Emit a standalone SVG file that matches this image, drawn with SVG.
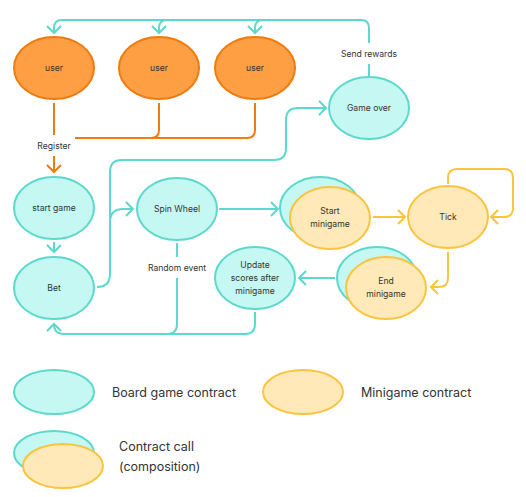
<svg xmlns="http://www.w3.org/2000/svg" width="526" height="497" viewBox="0 0 526 497">
<style>
.t{fill:#c5f8f2;stroke:#5dd8cc;stroke-width:2}
.o{fill:#fd9f42;stroke:#ef7b10;stroke-width:2}
.y{fill:#ffe9b8;stroke:#fbc43f;stroke-width:2}
text{font-family:Inter,"Noto Sans","Liberation Sans",sans-serif;fill:#333;font-size:8.6px;text-anchor:middle}
.lg{font-size:12.5px;text-anchor:start}
.ct{fill:none;stroke:#5dd8cc;stroke-width:2}
.co{fill:none;stroke:#ef7b10;stroke-width:2}
.cy{fill:none;stroke:#fbc43f;stroke-width:2}
</style>
<defs>
<marker id="at" markerUnits="userSpaceOnUse" viewBox="-9 -9 18 18" markerWidth="18" markerHeight="18" refX="0" refY="0" orient="auto"><path d="M-7,-7 L0,0 L-7,7" fill="none" stroke="#5dd8cc" stroke-width="2"/></marker>
<marker id="ao" markerUnits="userSpaceOnUse" viewBox="-9 -9 18 18" markerWidth="18" markerHeight="18" refX="0" refY="0" orient="auto"><path d="M-7,-7 L0,0 L-7,7" fill="none" stroke="#ef7b10" stroke-width="2"/></marker>
<marker id="ay" markerUnits="userSpaceOnUse" viewBox="-9 -9 18 18" markerWidth="18" markerHeight="18" refX="0" refY="0" orient="auto"><path d="M-7,-7 L0,0 L-7,7" fill="none" stroke="#fbc43f" stroke-width="2"/></marker>
</defs>
<rect width="526" height="497" fill="#fff"/>
<g id="connectors">
<path class="ct" d="M369,76 L369,64"/>
<path class="ct" d="M369,43 L369,28 Q369,20 361,20 L62,20 Q54,20 54,28 L54,33" marker-end="url(#at)"/>
<path class="ct" d="M167,20 Q159,20 159,28 L159,33" marker-end="url(#at)"/>
<path class="ct" d="M263,20 Q255,20 255,28 L255,33" marker-end="url(#at)"/>
<path class="co" d="M54,103 L54,135"/>
<path class="co" d="M54,156 L54,172" marker-end="url(#ao)"/>
<path class="co" d="M75,138 L247,138 Q255,138 255,130 L255,103"/>
<path class="co" d="M151,138 Q159,138 159,130 L159,103"/>
<path class="ct" d="M54,242 L54,252" marker-end="url(#at)"/>
<path class="ct" d="M97,287 Q110,287 110,274 L110,222 Q110,209 123,209 L133,209" marker-end="url(#at)"/>
<path class="ct" d="M110,222 L110,172 Q110,160 122,160 L274,160 Q286,160 286,148 L286,120 Q286,108 298,108 L326,108" marker-end="url(#at)"/>
<path class="ct" d="M219,209 L278,209" marker-end="url(#at)"/>
<path class="cy" d="M373,217 L405,217" marker-end="url(#ay)"/>
<path class="cy" d="M448,184 L448,178 Q448,169 457,169 L504,169 Q513,169 513,178 L513,208 Q513,217 504,217 L491,217" marker-end="url(#ay)"/>
<path class="cy" d="M448,252 L448,278 Q448,287 439,287 L431,287" marker-end="url(#ay)"/>
<path class="ct" d="M335,278 L299,278" marker-end="url(#at)"/>
<path class="ct" d="M177,243 L177,257"/>
<path class="ct" d="M177,278 L177,324 Q177,334 167,334"/>
<path class="ct" d="M255,312 L255,324 Q255,334 245,334 L64,334 Q54,334 54,324" marker-end="url(#at)"/>
<text x="54" y="149">Register</text>
<text x="369" y="57">Send rewards</text>
<text x="177" y="271">Random event</text>
</g>
<g id="user1"><ellipse class="o" cx="54" cy="68" rx="40" ry="31"/><text x="54" y="71">user</text></g>
<g id="user2"><ellipse class="o" cx="159" cy="68" rx="40" ry="31"/><text x="159" y="71">user</text></g>
<g id="user3"><ellipse class="o" cx="255" cy="68" rx="40" ry="31"/><text x="255" y="71">user</text></g>
<g id="game-over"><ellipse class="t" cx="369" cy="108" rx="40" ry="31"/><text x="369" y="111">Game over</text></g>
<g id="start-game"><ellipse class="t" cx="54" cy="208" rx="40" ry="31"/><text x="54" y="211">start game</text></g>
<g id="bet"><ellipse class="t" cx="54" cy="288" rx="40" ry="31"/><text x="54" y="291">Bet</text></g>
<g id="spin-wheel"><ellipse class="t" cx="177" cy="209" rx="40" ry="31"/><text x="177" y="212">Spin Wheel</text></g>
<g id="start-minigame"><ellipse class="t" cx="320" cy="208" rx="40" ry="31"/><ellipse class="y" cx="330" cy="218" rx="40" ry="31"/><text x="330" y="214">Start</text><text x="330" y="227">minigame</text></g>
<g id="tick"><ellipse class="y" cx="448" cy="217" rx="40" ry="31"/><text x="448" y="220">Tick</text></g>
<g id="end-minigame"><ellipse class="t" cx="377" cy="278" rx="40" ry="31"/><ellipse class="y" cx="386" cy="288" rx="40" ry="31"/><text x="386" y="284">End</text><text x="386" y="297">minigame</text></g>
<g id="update-scores"><ellipse class="t" cx="255" cy="278" rx="40" ry="31"/><text x="255" y="268">Update</text><text x="255" y="281">scores after</text><text x="255" y="294">minigame</text></g>
<g id="legend">
<ellipse class="t" cx="54" cy="392" rx="40" ry="22"/><text class="lg" x="112" y="397">Board game contract</text>
<ellipse class="y" cx="303" cy="392" rx="40" ry="22"/><text class="lg" x="361" y="397">Minigame contract</text>
<ellipse class="t" cx="54" cy="453" rx="40" ry="22"/><ellipse class="y" cx="63" cy="466" rx="40" ry="22"/>
<text class="lg" x="119" y="451">Contract call</text><text class="lg" x="119" y="471">(composition)</text>
</g>
</svg>
